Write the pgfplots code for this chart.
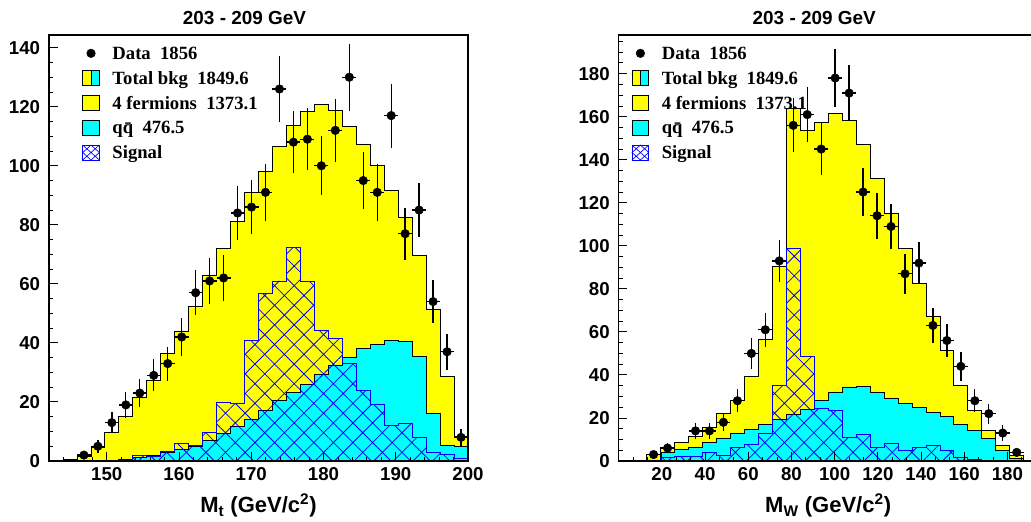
\documentclass[border=0pt]{standalone}
\usepackage{fontspec}
\setmainfont{Liberation Sans}
\newfontfamily\timesf{Liberation Serif}
\usepackage{pgfplots}
\pgfplotsset{compat=1.18}
\usepackage{pgfplotstable}
\usetikzlibrary{patterns.meta}

\definecolor{rYellow}{RGB}{255,255,0}
\definecolor{rCyan}{RGB}{0,255,255}
\definecolor{rBlue}{RGB}{0,0,255}

\newcommand\tickfont{\fontsize{14}{16}\selectfont\bfseries}
\newcommand\titlefont{\fontsize{14.2}{16}\selectfont\bfseries}
\newcommand\labfont{\fontsize{16.5}{18}\selectfont\bfseries}
\newcommand\legfont{\timesf\fontsize{14}{16}\selectfont\bfseries}

% left histogram: bin left edge, total bkg, qqbar, signal
\pgfplotstableread{
x tot qq sig
142.000 0.2 0.0 0.0
143.933 0.4 0.0 0.0
145.867 1.6 0.0 0.0
147.800 4.7 0.0 0.0
149.733 9.8 0.2 0.2
151.667 15.2 0.6 0.3
153.600 21.7 1.2 2.0
155.533 27.4 1.8 1.5
157.467 36.4 3.0 3.2
159.400 44.0 4.0 5.8
161.333 52.4 5.0 5.4
163.267 62.7 7.0 9.6
165.200 72.0 9.2 19.8
167.133 81.0 11.8 19.4
169.067 91.0 14.0 40.9
171.000 98.0 17.0 56.7
172.933 106.4 20.5 61.0
174.867 113.8 23.2 72.2
176.800 118.3 25.8 60.7
178.733 120.8 29.2 44.3
180.667 118.9 32.4 41.5
182.600 113.2 35.0 33.0
184.533 107.4 38.0 24.0
186.467 100.0 39.5 19.2
188.400 91.5 40.8 12.1
190.333 82.5 40.4 12.7
192.267 69.5 35.4 8.1
194.200 51.3 16.2 2.8
196.133 28.5 5.2 2.3
198.067 8.4 4.9 0.9
200.000 8.4 4.9 0.9
}\lefthist

\pgfplotstableread{
x ex y ey
146.833 0.967 2 1.41
148.767 0.967 5 2.24
150.700 0.967 13 3.61
152.633 0.967 19 4.36
154.567 0.967 23 4.80
156.500 0.967 29 5.39
158.433 0.967 33 5.74
160.367 0.967 42 6.48
162.300 0.967 57 7.55
164.233 0.967 61 7.81
166.167 0.967 62 7.87
168.100 0.967 84 9.17
170.033 0.967 86 9.27
171.967 0.967 91 9.54
173.900 0.967 126 11.22
175.833 0.967 108 10.39
177.767 0.967 109 10.44
179.700 0.967 100 10.00
181.633 0.967 112 10.58
183.567 0.967 130 11.40
185.500 0.967 95 9.75
187.433 0.967 91 9.54
189.367 0.967 117 10.82
191.300 0.967 77 8.77
193.233 0.967 85 9.22
195.167 0.967 54 7.35
197.100 0.967 37 6.08
199.033 0.967 8 2.83
}\leftdata

% right histogram
\pgfplotstableread{
x tot qq sig
0.000 0.3 0.0 0.0
6.467 0.3 0.0 0.2
12.933 3.1 0.5 0.5
19.400 6.2 4.2 1.5
25.867 8.5 5.3 2.0
32.333 11.6 6.5 2.0
38.800 15.8 8.5 3.9
45.267 22.0 10.7 2.6
51.733 28.2 12.7 6.2
58.200 39.4 14.7 7.8
64.667 56.5 16.9 13.0
71.133 90.6 19.2 35.2
77.600 164.0 21.8 98.8
84.067 153.8 24.0 48.7
90.533 157.2 28.2 24.4
97.000 161.6 32.1 23.3
103.467 158.1 34.4 10.9
109.933 147.3 34.7 12.4
116.400 131.3 32.1 6.2
122.867 115.1 29.3 8.1
129.333 98.8 26.7 5.0
135.800 82.5 24.7 6.2
142.267 67.4 22.5 7.3
148.733 51.5 20.5 5.0
155.200 35.2 17.1 1.9
161.667 23.6 14.3 0.6
168.133 14.3 10.4 0.3
174.600 7.3 5.0 0.0
181.067 2.7 1.1 0.0
187.533 0.5 0.3 0.0
194.000 0.5 0.3 0.0
}\righthist

\pgfplotstableread{
x ex y ey
16.167 3.233 3 1.73
22.633 3.233 6 2.45
35.567 3.233 14 3.74
42.033 3.233 14 3.74
48.500 3.233 18 4.24
54.967 3.233 28 5.29
61.433 3.233 50 7.07
67.900 3.233 61 7.81
74.367 3.233 93 9.64
80.833 3.233 156 12.49
87.300 3.233 161 12.69
93.767 3.233 145 12.04
100.233 3.233 178 13.34
106.700 3.233 171 13.08
113.167 3.233 125 11.18
119.633 3.233 114 10.68
126.100 3.233 109 10.44
132.567 3.233 87 9.33
139.033 3.233 92 9.59
145.500 3.233 63 7.94
151.967 3.233 56 7.48
158.433 3.233 44 6.63
164.900 3.233 28 5.29
171.367 3.233 22 4.69
177.833 3.233 13 3.61
184.300 3.233 4 2.00
}\rightdata

\pgfplotsset{
  rootax/.style={
    scale only axis, width=314.25pt, height=319.5pt, anchor=south west,
    axis on top, tick align=inside, xtick pos=bottom, ytick pos=left,
    major tick length=6.5pt, minor tick length=3.3pt,
    axis line style={line width=0.8pt},
    every tick/.append style={black, line width=0.7pt},
    ymin=0,
    tick label style={font=\tickfont},
    /pgf/number format/assume math mode=true,
    yticklabel style={inner sep=0pt, xshift=-6.5pt},
    xticklabel style={inner sep=0pt, yshift=-4.5pt},
    xlabel style={at={(axis description cs:0.5,0)}, anchor=base, yshift=-38.8pt, font=\labfont, inner sep=0pt},
    title style={anchor=base, yshift=1.5pt, font=\titlefont, inner sep=0pt},
    legend style={draw=none, fill=none, inner sep=0pt, outer sep=0pt,
      row sep=5.8pt, font=\legfont, anchor=north west,
      nodes={inner sep=0pt, text height=11pt, text depth=1.8pt},
      /tikz/every odd column/.append style={column sep=9.5pt}},
    legend cell align=left,
  },
  yellowh/.style={const plot, fill=rYellow, draw=black, line width=0.6pt, forget plot},
  cyanh/.style={const plot, fill=rCyan, draw=black, line width=0.6pt, forget plot},
  sigh/.style={const plot, draw=rBlue, line width=0.6pt, pattern={Hatch[angle=45,distance=10.4pt,line width=0.6pt]}, pattern color=rBlue, forget plot},
  datap/.style={only marks, mark=*, mark size=3.2pt, black, forget plot,
    error bars/.cd, x dir=both, x explicit, y dir=both, y explicit,
    error bar style={line width=1pt, black}, error mark=none},
  legdata/.style={legend image code/.code={\fill[black] (6.25pt,0pt) circle (3.2pt);}},
  legtot/.style={legend image code/.code={
     \fill[rYellow] (0pt,-5.6pt) rectangle (6.25pt,5.6pt);
     \fill[rCyan] (6.25pt,-5.6pt) rectangle (12.5pt,5.6pt);
     \draw[black, line width=0.6pt] (0pt,-5.6pt) rectangle (12.5pt,5.6pt) (6.25pt,-5.6pt) -- (6.25pt,5.6pt);}},
  legyel/.style={legend image code/.code={\draw[fill=rYellow, draw=black, line width=0.6pt] (0pt,-5.6pt) rectangle (12.5pt,5.6pt);}},
  legcy/.style={legend image code/.code={\draw[fill=rCyan, draw=black, line width=0.6pt] (0pt,-5.6pt) rectangle (12.5pt,5.6pt);}},
  legsig/.style={legend image code/.code={
     \draw[rBlue, line width=0.6pt] (0pt,-5.6pt) rectangle (12.5pt,5.6pt);
     \draw[rBlue, line width=0.5pt] (0pt,-5.6pt) -- (12.5pt,5.6pt) (0pt,5.6pt) -- (12.5pt,-5.6pt)
        (0pt,0pt) -- (6.25pt,5.6pt) -- (12.5pt,0pt) -- (6.25pt,-5.6pt) -- cycle;}},
}

\begin{document}
\begin{tikzpicture}
\begin{axis}[rootax, at={(36.75pt,45pt)},
  xmin=142, xmax=200, ymax=144.3,
  xtick={150,160,...,200}, minor xtick={144,146,...,198},
  ytick={0,20,...,140}, minor ytick={5,10,...,140},
  xlabel={M\textsubscript{t} (GeV/c\textsuperscript{2})},
  title={203 - 209 GeV}, title style={at={(axis description cs:0.4666,1)}},
  legend style={at={(axis description cs:0.0795,0.977)}},
]
\addplot[yellowh] table[x=x,y=tot]{\lefthist} \closedcycle;
\addplot[cyanh] table[x=x,y=qq]{\lefthist} \closedcycle;
\addplot[sigh] table[x=x,y=sig]{\lefthist} \closedcycle;
\addplot[datap] table[x=x,y=y,x error=ex,y error=ey]{\leftdata};
\addlegendimage{legdata}\addlegendentry{Data~~1856}
\addlegendimage{legtot}\addlegendentry{Total bkg~~1849.6}
\addlegendimage{legyel}\addlegendentry{4 fermions~~1373.1}
\addlegendimage{legcy}\addlegendentry{q\=q~~476.5}
\addlegendimage{legsig}\addlegendentry{Signal}
\end{axis}

\begin{axis}[rootax, at={(464pt,45pt)},
  xmin=0, xmax=194, ymax=198,
  xtick={20,40,...,180},
  minor xtick={6.667,13.333,26.667,33.333,46.667,53.333,66.667,73.333,86.667,93.333,106.667,113.333,126.667,133.333,146.667,153.333,166.667,173.333,186.667,193.333},
  ytick={0,20,...,180}, minor ytick={5,10,...,195},
  xlabel={M\textsubscript{W} (GeV/c\textsuperscript{2})},
  title={203 - 209 GeV}, title style={at={(axis description cs:0.4668,1)}},
  legend style={at={(axis description cs:0.031,0.977)}},
]
\addplot[yellowh] table[x=x,y=tot]{\righthist} \closedcycle;
\addplot[cyanh] table[x=x,y=qq]{\righthist} \closedcycle;
\addplot[sigh] table[x=x,y=sig]{\righthist} \closedcycle;
\addplot[datap] table[x=x,y=y,x error=ex,y error=ey]{\rightdata};
\addlegendimage{legdata}\addlegendentry{Data~~1856}
\addlegendimage{legtot}\addlegendentry{Total bkg~~1849.6}
\addlegendimage{legyel}\addlegendentry{4 fermions~~1373.1}
\addlegendimage{legcy}\addlegendentry{q\=q~~476.5}
\addlegendimage{legsig}\addlegendentry{Signal}
\end{axis}
\pgfresetboundingbox
\path[use as bounding box] (0pt,0pt) rectangle (773.25pt,390.75pt);
\end{tikzpicture}
\end{document}
